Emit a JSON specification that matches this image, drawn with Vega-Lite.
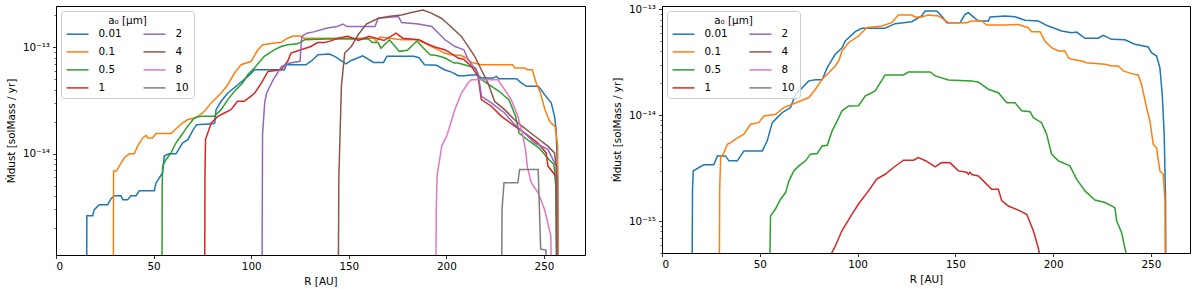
{
"$schema": "https://vega.github.io/schema/vega-lite/v6.json",
"padding": {"left": 5, "top": 3, "right": 5, "bottom": 2},
"datasets": {
"left": [
{"a":"0.01","r":15.6,"m":1e-16},{"a":"0.01","r":15.8,"m":2.62e-15},{"a":"0.01","r":18.8,"m":2.62e-15},{"a":"0.01","r":19.6,"m":2.99e-15},{"a":"0.01","r":22.2,"m":3.33e-15},{"a":"0.01","r":26.5,"m":3.33e-15},{"a":"0.01","r":28.2,"m":3.79e-15},{"a":"0.01","r":29.9,"m":4.04e-15},{"a":"0.01","r":33.3,"m":4.04e-15},{"a":"0.01","r":34.2,"m":3.71e-15},{"a":"0.01","r":36.7,"m":3.71e-15},{"a":"0.01","r":38.4,"m":4.04e-15},{"a":"0.01","r":41,"m":4.04e-15},{"a":"0.01","r":42.7,"m":4.5e-15},{"a":"0.01","r":50.4,"m":4.5e-15},{"a":"0.01","r":51.2,"m":5.3e-15},{"a":"0.01","r":54.6,"m":6.64e-15},{"a":"0.01","r":55.5,"m":9.57e-15},{"a":"0.01","r":58,"m":1e-14},{"a":"0.01","r":61.5,"m":1e-14},{"a":"0.01","r":64.9,"m":1.27e-14},{"a":"0.01","r":67.6,"m":1.36e-14},{"a":"0.01","r":70,"m":1.65e-14},{"a":"0.01","r":72,"m":1.88e-14},{"a":"0.01","r":80.5,"m":1.92e-14},{"a":"0.01","r":81.3,"m":1.95e-14},{"a":"0.01","r":82,"m":2.6e-14},{"a":"0.01","r":84.6,"m":3.12e-14},{"a":"0.01","r":88,"m":3.73e-14},{"a":"0.01","r":93.2,"m":4.46e-14},{"a":"0.01","r":98.3,"m":5.35e-14},{"a":"0.01","r":101.8,"m":6.17e-14},{"a":"0.01","r":117,"m":6.17e-14},{"a":"0.01","r":118,"m":6.87e-14},{"a":"0.01","r":128,"m":6.87e-14},{"a":"0.01","r":131,"m":7.5e-14},{"a":"0.01","r":134.2,"m":8.53e-14},{"a":"0.01","r":140,"m":8.65e-14},{"a":"0.01","r":143,"m":8.2e-14},{"a":"0.01","r":148.6,"m":7.02e-14},{"a":"0.01","r":151,"m":7.5e-14},{"a":"0.01","r":157.1,"m":8.34e-14},{"a":"0.01","r":162.7,"m":7.23e-14},{"a":"0.01","r":167.8,"m":7.23e-14},{"a":"0.01","r":169.5,"m":8.24e-14},{"a":"0.01","r":183.2,"m":8.24e-14},{"a":"0.01","r":186,"m":8.0e-14},{"a":"0.01","r":188.8,"m":6.87e-14},{"a":"0.01","r":195,"m":6.8e-14},{"a":"0.01","r":199,"m":6.17e-14},{"a":"0.01","r":203,"m":5.83e-14},{"a":"0.01","r":206,"m":5.42e-14},{"a":"0.01","r":209,"m":5.42e-14},{"a":"0.01","r":213,"m":5.5e-14},{"a":"0.01","r":216,"m":5.5e-14},{"a":"0.01","r":218,"m":5.15e-14},{"a":"0.01","r":224,"m":5.15e-14},{"a":"0.01","r":225.6,"m":5.35e-14},{"a":"0.01","r":227,"m":5.08e-14},{"a":"0.01","r":236,"m":5.08e-14},{"a":"0.01","r":238,"m":4.7e-14},{"a":"0.01","r":241,"m":4.31e-14},{"a":"0.01","r":247,"m":4.31e-14},{"a":"0.01","r":248.5,"m":4.0e-14},{"a":"0.01","r":250.3,"m":3.6e-14},{"a":"0.01","r":253.7,"m":3.01e-14},{"a":"0.01","r":255.4,"m":2.25e-14},{"a":"0.01","r":256.2,"m":1.69e-14},{"a":"0.01","r":257,"m":6e-15},{"a":"0.01","r":257.7,"m":1e-16},
{"a":"0.1","r":29.3,"m":1e-16},{"a":"0.1","r":29.5,"m":6.89e-15},{"a":"0.1","r":31,"m":6.89e-15},{"a":"0.1","r":32.4,"m":7.67e-15},{"a":"0.1","r":35,"m":9.18e-15},{"a":"0.1","r":37.6,"m":1e-14},{"a":"0.1","r":40.1,"m":1e-14},{"a":"0.1","r":41.8,"m":1.18e-14},{"a":"0.1","r":44.4,"m":1.41e-14},{"a":"0.1","r":46.1,"m":1.49e-14},{"a":"0.1","r":47,"m":1.41e-14},{"a":"0.1","r":49.5,"m":1.41e-14},{"a":"0.1","r":51.2,"m":1.55e-14},{"a":"0.1","r":59,"m":1.55e-14},{"a":"0.1","r":61.5,"m":1.72e-14},{"a":"0.1","r":64.9,"m":1.95e-14},{"a":"0.1","r":67.6,"m":2.1e-14},{"a":"0.1","r":70.9,"m":2.17e-14},{"a":"0.1","r":72.7,"m":2.25e-14},{"a":"0.1","r":76.1,"m":2.51e-14},{"a":"0.1","r":79.5,"m":3.01e-14},{"a":"0.1","r":84.6,"m":3.73e-14},{"a":"0.1","r":88,"m":4.46e-14},{"a":"0.1","r":91.4,"m":5.74e-14},{"a":"0.1","r":94.8,"m":6.87e-14},{"a":"0.1","r":100,"m":7.4e-14},{"a":"0.1","r":103.4,"m":9.5e-14},{"a":"0.1","r":106,"m":1.06e-13},{"a":"0.1","r":112,"m":1.1e-13},{"a":"0.1","r":115.3,"m":1.12e-13},{"a":"0.1","r":118.7,"m":1.22e-13},{"a":"0.1","r":121.3,"m":1.28e-13},{"a":"0.1","r":125,"m":1.28e-13},{"a":"0.1","r":127.3,"m":1.22e-13},{"a":"0.1","r":163,"m":1.22e-13},{"a":"0.1","r":164,"m":1.14e-13},{"a":"0.1","r":166,"m":1.25e-13},{"a":"0.1","r":177,"m":1.18e-13},{"a":"0.1","r":185,"m":1.18e-13},{"a":"0.1","r":188.8,"m":1.1e-13},{"a":"0.1","r":194,"m":9.84e-14},{"a":"0.1","r":199,"m":8.85e-14},{"a":"0.1","r":202,"m":8.53e-14},{"a":"0.1","r":207.5,"m":8.4e-14},{"a":"0.1","r":210,"m":8.0e-14},{"a":"0.1","r":213,"m":7.2e-14},{"a":"0.1","r":218,"m":6.87e-14},{"a":"0.1","r":234,"m":6.87e-14},{"a":"0.1","r":235,"m":6.4e-14},{"a":"0.1","r":240,"m":6.4e-14},{"a":"0.1","r":241.5,"m":6.17e-14},{"a":"0.1","r":244,"m":6.17e-14},{"a":"0.1","r":246,"m":4.62e-14},{"a":"0.1","r":248,"m":3.8e-14},{"a":"0.1","r":250.5,"m":2.6e-14},{"a":"0.1","r":253,"m":2.0e-14},{"a":"0.1","r":255.7,"m":1.8e-14},{"a":"0.1","r":257,"m":1.2e-14},{"a":"0.1","r":257.5,"m":1e-16},
{"a":"0.5","r":54.2,"m":1e-16},{"a":"0.5","r":54.4,"m":5e-15},{"a":"0.5","r":54.6,"m":7.67e-15},{"a":"0.5","r":56.4,"m":8.85e-15},{"a":"0.5","r":58.9,"m":1.02e-14},{"a":"0.5","r":61.5,"m":1.27e-14},{"a":"0.5","r":64,"m":1.47e-14},{"a":"0.5","r":67.5,"m":1.82e-14},{"a":"0.5","r":70.9,"m":2.17e-14},{"a":"0.5","r":74,"m":2.25e-14},{"a":"0.5","r":81,"m":2.25e-14},{"a":"0.5","r":84.6,"m":2.6e-14},{"a":"0.5","r":88,"m":3.23e-14},{"a":"0.5","r":92.2,"m":4.01e-14},{"a":"0.5","r":95.6,"m":4.62e-14},{"a":"0.5","r":98.2,"m":5.53e-14},{"a":"0.5","r":101.6,"m":6.4e-14},{"a":"0.5","r":106.7,"m":8.24e-14},{"a":"0.5","r":111.8,"m":9.5e-14},{"a":"0.5","r":115.3,"m":1.02e-13},{"a":"0.5","r":118.7,"m":1.06e-13},{"a":"0.5","r":123.8,"m":1.08e-13},{"a":"0.5","r":127.3,"m":1.18e-13},{"a":"0.5","r":139,"m":1.2e-13},{"a":"0.5","r":160,"m":1.2e-13},{"a":"0.5","r":162,"m":1.11e-13},{"a":"0.5","r":165,"m":1.11e-13},{"a":"0.5","r":166.5,"m":9.84e-14},{"a":"0.5","r":170.8,"m":1.18e-13},{"a":"0.5","r":175.9,"m":9.18e-14},{"a":"0.5","r":180,"m":9.4e-14},{"a":"0.5","r":184.9,"m":1.15e-13},{"a":"0.5","r":188.3,"m":9.84e-14},{"a":"0.5","r":191.7,"m":8.53e-14},{"a":"0.5","r":195,"m":8.4e-14},{"a":"0.5","r":199,"m":8.0e-14},{"a":"0.5","r":204,"m":7.13e-14},{"a":"0.5","r":206,"m":7.13e-14},{"a":"0.5","r":210,"m":6.8e-14},{"a":"0.5","r":215,"m":6.4e-14},{"a":"0.5","r":216.7,"m":5.15e-14},{"a":"0.5","r":221.8,"m":4.46e-14},{"a":"0.5","r":227,"m":3.87e-14},{"a":"0.5","r":232,"m":3.23e-14},{"a":"0.5","r":235.5,"m":2.25e-14},{"a":"0.5","r":237.2,"m":1.57e-14},{"a":"0.5","r":242.3,"m":1.32e-14},{"a":"0.5","r":247.4,"m":1.14e-14},{"a":"0.5","r":252.5,"m":8.85e-15},{"a":"0.5","r":255.1,"m":7.94e-15},{"a":"0.5","r":256,"m":5e-15},{"a":"0.5","r":256.8,"m":1e-16},
{"a":"1","r":76.1,"m":1e-16},{"a":"1","r":76.3,"m":6e-15},{"a":"1","r":76.6,"m":1.36e-14},{"a":"1","r":79.5,"m":1.95e-14},{"a":"1","r":82.9,"m":2.25e-14},{"a":"1","r":86.3,"m":2.42e-14},{"a":"1","r":89.6,"m":2.6e-14},{"a":"1","r":93,"m":3.12e-14},{"a":"1","r":96.4,"m":3.12e-14},{"a":"1","r":99.8,"m":3.47e-14},{"a":"1","r":101.8,"m":3.73e-14},{"a":"1","r":105.2,"m":4.62e-14},{"a":"1","r":108.6,"m":5.95e-14},{"a":"1","r":115.3,"m":6.17e-14},{"a":"1","r":118.7,"m":7.4e-14},{"a":"1","r":120.4,"m":8.85e-14},{"a":"1","r":125.5,"m":9.5e-14},{"a":"1","r":130.6,"m":1.02e-13},{"a":"1","r":134,"m":1.11e-13},{"a":"1","r":137.4,"m":1.11e-13},{"a":"1","r":140,"m":1.14e-13},{"a":"1","r":144.4,"m":1.22e-13},{"a":"1","r":149.5,"m":1.27e-13},{"a":"1","r":155,"m":1.16e-13},{"a":"1","r":160.4,"m":1.27e-13},{"a":"1","r":168,"m":1.16e-13},{"a":"1","r":174.2,"m":1.36e-13},{"a":"1","r":177.6,"m":1.22e-13},{"a":"1","r":186,"m":1.18e-13},{"a":"1","r":191.1,"m":1.06e-13},{"a":"1","r":195,"m":1.0e-13},{"a":"1","r":199.1,"m":9.5e-14},{"a":"1","r":200.8,"m":9.18e-14},{"a":"1","r":206,"m":7.94e-14},{"a":"1","r":209,"m":7.7e-14},{"a":"1","r":212.8,"m":6.63e-14},{"a":"1","r":216.2,"m":5.35e-14},{"a":"1","r":217.9,"m":3.23e-14},{"a":"1","r":223,"m":2.8e-14},{"a":"1","r":228.2,"m":2.25e-14},{"a":"1","r":235,"m":1.82e-14},{"a":"1","r":240,"m":1.57e-14},{"a":"1","r":246.8,"m":1.27e-14},{"a":"1","r":251.1,"m":1.02e-14},{"a":"1","r":252,"m":7.67e-15},{"a":"1","r":255.4,"m":6.4e-15},{"a":"1","r":256.5,"m":6e-15},{"a":"1","r":257,"m":1e-16},
{"a":"2","r":105.4,"m":1e-16},{"a":"2","r":105.8,"m":1.5e-14},{"a":"2","r":106.9,"m":3.01e-14},{"a":"2","r":107.9,"m":3.73e-14},{"a":"2","r":111.3,"m":4.97e-14},{"a":"2","r":115.6,"m":6.63e-14},{"a":"2","r":119.9,"m":7.13e-14},{"a":"2","r":125,"m":7.4e-14},{"a":"2","r":125.9,"m":1.27e-13},{"a":"2","r":128.5,"m":1.36e-13},{"a":"2","r":132,"m":1.4e-13},{"a":"2","r":139,"m":1.52e-13},{"a":"2","r":144,"m":1.57e-13},{"a":"2","r":147,"m":1.66e-13},{"a":"2","r":149,"m":1.57e-13},{"a":"2","r":163.4,"m":1.57e-13},{"a":"2","r":165.1,"m":1.88e-13},{"a":"2","r":175.4,"m":1.95e-13},{"a":"2","r":177.1,"m":1.71e-13},{"a":"2","r":185.6,"m":1.66e-13},{"a":"2","r":192.5,"m":1.57e-13},{"a":"2","r":199.3,"m":1.18e-13},{"a":"2","r":204.4,"m":1.02e-13},{"a":"2","r":207,"m":9.8e-14},{"a":"2","r":209,"m":9.5e-14},{"a":"2","r":211.1,"m":7.66e-14},{"a":"2","r":216.2,"m":5.74e-14},{"a":"2","r":218,"m":3.47e-14},{"a":"2","r":223,"m":3.01e-14},{"a":"2","r":229.8,"m":2.42e-14},{"a":"2","r":235,"m":1.88e-14},{"a":"2","r":240,"m":1.57e-14},{"a":"2","r":245.2,"m":1.27e-14},{"a":"2","r":252,"m":1.1e-14},{"a":"2","r":255.4,"m":8.24e-15},{"a":"2","r":256.5,"m":7.7e-15},{"a":"2","r":257,"m":1e-16},
{"a":"4","r":144.4,"m":1e-16},{"a":"4","r":144.9,"m":6e-15},{"a":"4","r":145.5,"m":1.47e-14},{"a":"4","r":146.2,"m":4.31e-14},{"a":"4","r":147.9,"m":8.85e-14},{"a":"4","r":151.3,"m":1.02e-13},{"a":"4","r":154.7,"m":1.31e-13},{"a":"4","r":159,"m":1.66e-13},{"a":"4","r":165.1,"m":1.88e-13},{"a":"4","r":170.2,"m":1.95e-13},{"a":"4","r":177,"m":2.02e-13},{"a":"4","r":182.1,"m":2.13e-13},{"a":"4","r":188,"m":2.25e-13},{"a":"4","r":192.3,"m":2.1e-13},{"a":"4","r":197.4,"m":1.88e-13},{"a":"4","r":200.8,"m":1.66e-13},{"a":"4","r":207.7,"m":1.27e-13},{"a":"4","r":214.5,"m":8.24e-14},{"a":"4","r":217.9,"m":6.17e-14},{"a":"4","r":221.3,"m":4.62e-14},{"a":"4","r":224.7,"m":3.12e-14},{"a":"4","r":229.8,"m":2.6e-14},{"a":"4","r":236.6,"m":1.95e-14},{"a":"4","r":245.2,"m":1.47e-14},{"a":"4","r":252,"m":1.18e-14},{"a":"4","r":255.4,"m":1.02e-14},{"a":"4","r":256.2,"m":7.7e-15},{"a":"4","r":257,"m":1e-16},
{"a":"8","r":194.4,"m":1e-16},{"a":"8","r":194.8,"m":3e-15},{"a":"8","r":195.2,"m":6.18e-15},{"a":"8","r":197.6,"m":1.18e-14},{"a":"8","r":200.2,"m":1.47e-14},{"a":"8","r":204.3,"m":2.6e-14},{"a":"8","r":207.7,"m":3.73e-14},{"a":"8","r":211.1,"m":4.62e-14},{"a":"8","r":212.8,"m":4.97e-14},{"a":"8","r":226.4,"m":4.97e-14},{"a":"8","r":229.8,"m":4.01e-14},{"a":"8","r":233.2,"m":3.23e-14},{"a":"8","r":236.6,"m":2.25e-14},{"a":"8","r":239.2,"m":1.47e-14},{"a":"8","r":240.5,"m":1.1e-14},{"a":"8","r":241.5,"m":7.5e-15},{"a":"8","r":243.5,"m":5.35e-15},{"a":"8","r":247,"m":4.3e-15},{"a":"8","r":250.3,"m":3e-15},{"a":"8","r":253.5,"m":1.7e-15},{"a":"8","r":254.3,"m":1e-16},
{"a":"10","r":228,"m":1e-16},{"a":"10","r":228.5,"m":3e-15},{"a":"10","r":229.5,"m":5.35e-15},{"a":"10","r":236.6,"m":5.35e-15},{"a":"10","r":237.5,"m":7.13e-15},{"a":"10","r":247,"m":7.13e-15},{"a":"10","r":248.3,"m":1.27e-15},{"a":"10","r":251,"m":1.25e-15},{"a":"10","r":252,"m":1e-16}
],
"right": [
{"a":"0.01","r":15,"m":1e-17},{"a":"0.01","r":15.6,"m":2e-15},{"a":"0.01","r":16,"m":2.98e-15},{"a":"0.01","r":18.9,"m":3.21e-15},{"a":"0.01","r":21.4,"m":3.4e-15},{"a":"0.01","r":26.5,"m":3.4e-15},{"a":"0.01","r":28.3,"m":4.13e-15},{"a":"0.01","r":32.5,"m":4.13e-15},{"a":"0.01","r":34.2,"m":3.71e-15},{"a":"0.01","r":38.5,"m":3.71e-15},{"a":"0.01","r":41.9,"m":4.6e-15},{"a":"0.01","r":51.3,"m":4.6e-15},{"a":"0.01","r":53.8,"m":5.73e-15},{"a":"0.01","r":56.4,"m":8.51e-15},{"a":"0.01","r":58.9,"m":9.49e-15},{"a":"0.01","r":61.5,"m":1.06e-14},{"a":"0.01","r":65.7,"m":1.18e-14},{"a":"0.01","r":68.3,"m":1.58e-14},{"a":"0.01","r":71.7,"m":1.82e-14},{"a":"0.01","r":75.1,"m":2.11e-14},{"a":"0.01","r":78.5,"m":2.16e-14},{"a":"0.01","r":81.9,"m":2.16e-14},{"a":"0.01","r":84.5,"m":2.81e-14},{"a":"0.01","r":87,"m":3.37e-14},{"a":"0.01","r":88.6,"m":3.76e-14},{"a":"0.01","r":92.1,"m":4.34e-14},{"a":"0.01","r":93.7,"m":5.02e-14},{"a":"0.01","r":98.8,"m":6.15e-14},{"a":"0.01","r":102.2,"m":6.62e-14},{"a":"0.01","r":114.1,"m":6.62e-14},{"a":"0.01","r":119.2,"m":7.32e-14},{"a":"0.01","r":127.7,"m":7.64e-14},{"a":"0.01","r":132.8,"m":8.65e-14},{"a":"0.01","r":134.5,"m":9.64e-14},{"a":"0.01","r":140.5,"m":9.64e-14},{"a":"0.01","r":143,"m":8.65e-14},{"a":"0.01","r":145.6,"m":7.48e-14},{"a":"0.01","r":152.4,"m":7.48e-14},{"a":"0.01","r":155,"m":8.97e-14},{"a":"0.01","r":156.7,"m":9.29e-14},{"a":"0.01","r":159.2,"m":8.5e-14},{"a":"0.01","r":161.8,"m":7.76e-14},{"a":"0.01","r":166.9,"m":7.76e-14},{"a":"0.01","r":167.8,"m":8.46e-14},{"a":"0.01","r":175.4,"m":8.65e-14},{"a":"0.01","r":180.5,"m":8.5e-14},{"a":"0.01","r":185.6,"m":7.88e-14},{"a":"0.01","r":192.4,"m":7.76e-14},{"a":"0.01","r":197.5,"m":6.95e-14},{"a":"0.01","r":204.4,"m":6.24e-14},{"a":"0.01","r":209.5,"m":6.01e-14},{"a":"0.01","r":212,"m":6.1e-14},{"a":"0.01","r":216.3,"m":5.33e-14},{"a":"0.01","r":223.1,"m":5.33e-14},{"a":"0.01","r":225.6,"m":5.68e-14},{"a":"0.01","r":229.9,"m":5.21e-14},{"a":"0.01","r":236.7,"m":5.15e-14},{"a":"0.01","r":241.8,"m":4.68e-14},{"a":"0.01","r":248.6,"m":4.41e-14},{"a":"0.01","r":250.3,"m":3.9e-14},{"a":"0.01","r":252.9,"m":3.62e-14},{"a":"0.01","r":254.6,"m":2.81e-14},{"a":"0.01","r":255.8,"m":1.58e-14},{"a":"0.01","r":256.8,"m":6.62e-15},{"a":"0.01","r":257.5,"m":1.56e-15},{"a":"0.01","r":258,"m":1e-17},
{"a":"0.1","r":29,"m":1e-17},{"a":"0.1","r":29.5,"m":2e-15},{"a":"0.1","r":30,"m":3.98e-15},{"a":"0.1","r":31.7,"m":4.44e-15},{"a":"0.1","r":33.4,"m":5.32e-15},{"a":"0.1","r":35.1,"m":5.52e-15},{"a":"0.1","r":37.6,"m":5.94e-15},{"a":"0.1","r":41.9,"m":6.62e-15},{"a":"0.1","r":45.3,"m":8.22e-15},{"a":"0.1","r":49.5,"m":8.51e-15},{"a":"0.1","r":52.1,"m":9.85e-15},{"a":"0.1","r":58.1,"m":1.02e-14},{"a":"0.1","r":62.3,"m":1.18e-14},{"a":"0.1","r":66.6,"m":1.27e-14},{"a":"0.1","r":75.1,"m":1.47e-14},{"a":"0.1","r":78.5,"m":1.76e-14},{"a":"0.1","r":81.9,"m":2.19e-14},{"a":"0.1","r":85.3,"m":2.52e-14},{"a":"0.1","r":88.6,"m":2.92e-14},{"a":"0.1","r":90.5,"m":3.3e-14},{"a":"0.1","r":92,"m":4.04e-14},{"a":"0.1","r":95.4,"m":4.84e-14},{"a":"0.1","r":100.5,"m":5.6e-14},{"a":"0.1","r":104.7,"m":6.7e-14},{"a":"0.1","r":112.4,"m":6.95e-14},{"a":"0.1","r":117.5,"m":7.48e-14},{"a":"0.1","r":120.9,"m":8.83e-14},{"a":"0.1","r":127.7,"m":8.83e-14},{"a":"0.1","r":129.4,"m":8.46e-14},{"a":"0.1","r":132.8,"m":8.46e-14},{"a":"0.1","r":136.2,"m":8.83e-14},{"a":"0.1","r":141.4,"m":8.65e-14},{"a":"0.1","r":146.5,"m":7.48e-14},{"a":"0.1","r":155.8,"m":7.48e-14},{"a":"0.1","r":158.4,"m":7.76e-14},{"a":"0.1","r":163.5,"m":7.76e-14},{"a":"0.1","r":166,"m":7.11e-14},{"a":"0.1","r":175.4,"m":7.11e-14},{"a":"0.1","r":182.2,"m":7.2e-14},{"a":"0.1","r":187.3,"m":6.7e-14},{"a":"0.1","r":189,"m":6.15e-14},{"a":"0.1","r":193.3,"m":6.15e-14},{"a":"0.1","r":195.8,"m":5.02e-14},{"a":"0.1","r":199.2,"m":4.34e-14},{"a":"0.1","r":202.7,"m":4.04e-14},{"a":"0.1","r":206,"m":4.04e-14},{"a":"0.1","r":207.8,"m":3.49e-14},{"a":"0.1","r":209.5,"m":3.37e-14},{"a":"0.1","r":214.6,"m":3.25e-14},{"a":"0.1","r":217.1,"m":3.13e-14},{"a":"0.1","r":226.5,"m":3.03e-14},{"a":"0.1","r":229.9,"m":2.92e-14},{"a":"0.1","r":233.3,"m":2.92e-14},{"a":"0.1","r":235.9,"m":2.62e-14},{"a":"0.1","r":240.1,"m":2.47e-14},{"a":"0.1","r":243.5,"m":2.4e-14},{"a":"0.1","r":245.2,"m":1.96e-14},{"a":"0.1","r":247.8,"m":1.18e-14},{"a":"0.1","r":249.5,"m":8.83e-15},{"a":"0.1","r":251.2,"m":5.32e-15},{"a":"0.1","r":252.9,"m":4.92e-15},{"a":"0.1","r":254.6,"m":2.98e-15},{"a":"0.1","r":256.3,"m":2.77e-15},{"a":"0.1","r":257.2,"m":1.56e-15},{"a":"0.1","r":257.6,"m":1e-17},
{"a":"0.5","r":54.6,"m":1e-17},{"a":"0.5","r":55.2,"m":5e-16},{"a":"0.5","r":55.5,"m":1.12e-15},{"a":"0.5","r":58,"m":1.3e-15},{"a":"0.5","r":60.6,"m":1.61e-15},{"a":"0.5","r":63.2,"m":1.86e-15},{"a":"0.5","r":64.9,"m":2.4e-15},{"a":"0.5","r":67.4,"m":2.98e-15},{"a":"0.5","r":70,"m":3.32e-15},{"a":"0.5","r":73.4,"m":3.71e-15},{"a":"0.5","r":75.9,"m":4.29e-15},{"a":"0.5","r":79.4,"m":4.35e-15},{"a":"0.5","r":81.9,"m":5.13e-15},{"a":"0.5","r":84.5,"m":5.2e-15},{"a":"0.5","r":87,"m":7.11e-15},{"a":"0.5","r":89.6,"m":8.83e-15},{"a":"0.5","r":92,"m":1.1e-14},{"a":"0.5","r":95.4,"m":1.225e-14},{"a":"0.5","r":100.5,"m":1.23e-14},{"a":"0.5","r":103.9,"m":1.52e-14},{"a":"0.5","r":109,"m":1.695e-14},{"a":"0.5","r":114.1,"m":2.4e-14},{"a":"0.5","r":123.5,"m":2.4e-14},{"a":"0.5","r":126,"m":2.56e-14},{"a":"0.5","r":137.1,"m":2.56e-14},{"a":"0.5","r":139.7,"m":2.35e-14},{"a":"0.5","r":146.5,"m":2.155e-14},{"a":"0.5","r":158.4,"m":2.11e-14},{"a":"0.5","r":161.8,"m":2.05e-14},{"a":"0.5","r":166.9,"m":1.76e-14},{"a":"0.5","r":172,"m":1.63e-14},{"a":"0.5","r":176.3,"m":1.315e-14},{"a":"0.5","r":180.5,"m":1.315e-14},{"a":"0.5","r":183.9,"m":1.1e-14},{"a":"0.5","r":188.2,"m":1.08e-14},{"a":"0.5","r":189.9,"m":9.49e-15},{"a":"0.5","r":194.1,"m":8.51e-15},{"a":"0.5","r":196.7,"m":6.62e-15},{"a":"0.5","r":199.2,"m":4.29e-15},{"a":"0.5","r":202.7,"m":3.71e-15},{"a":"0.5","r":208.6,"m":3.32e-15},{"a":"0.5","r":212,"m":2.49e-15},{"a":"0.5","r":216.3,"m":1.93e-15},{"a":"0.5","r":221.4,"m":1.58e-15},{"a":"0.5","r":226.5,"m":1.5e-15},{"a":"0.5","r":231.6,"m":1.34e-15},{"a":"0.5","r":232.5,"m":1e-15},{"a":"0.5","r":235,"m":7.8e-16},{"a":"0.5","r":236.7,"m":5.6e-16},{"a":"0.5","r":238.5,"m":4e-16},{"a":"0.5","r":239,"m":1e-17},
{"a":"1","r":83,"m":3.5e-16},{"a":"1","r":85.5,"m":4.5e-16},{"a":"1","r":88.6,"m":5.8e-16},{"a":"1","r":92,"m":8.1e-16},{"a":"1","r":97.1,"m":1.16e-15},{"a":"1","r":100.5,"m":1.45e-15},{"a":"1","r":105.6,"m":1.93e-15},{"a":"1","r":109.8,"m":2.49e-15},{"a":"1","r":114.1,"m":2.77e-15},{"a":"1","r":118.4,"m":3.21e-15},{"a":"1","r":123.5,"m":3.76e-15},{"a":"1","r":128.6,"m":3.76e-15},{"a":"1","r":131.1,"m":3.98e-15},{"a":"1","r":135,"m":3.7e-15},{"a":"1","r":139.7,"m":3.25e-15},{"a":"1","r":143,"m":3.57e-15},{"a":"1","r":147.3,"m":3.55e-15},{"a":"1","r":151.6,"m":2.98e-15},{"a":"1","r":155.8,"m":2.9e-15},{"a":"1","r":156.7,"m":2.77e-15},{"a":"1","r":157.5,"m":2.9e-15},{"a":"1","r":158.4,"m":2.75e-15},{"a":"1","r":161.8,"m":2.67e-15},{"a":"1","r":165.2,"m":2.31e-15},{"a":"1","r":168.6,"m":2e-15},{"a":"1","r":172,"m":2e-15},{"a":"1","r":173.7,"m":1.56e-15},{"a":"1","r":177.1,"m":1.39e-15},{"a":"1","r":182.2,"m":1.27e-15},{"a":"1","r":186.5,"m":1.16e-15},{"a":"1","r":189.9,"m":8.1e-16},{"a":"1","r":192.4,"m":5.6e-16},{"a":"1","r":194,"m":4e-16}
]
},
"config": {
  "font": "DejaVu Sans",
  "view": {"stroke": "#000", "strokeWidth": 1},
  "axis": {"labelFont": "DejaVu Sans", "labelFontSize": 10.4, "titleFont": "DejaVu Sans", "titleFontSize": 10.4, "titleFontWeight": "normal", "labelColor": "#000", "titleColor": "#000", "tickColor": "#000", "domain": false, "grid": false, "tickSize": 3.5, "tickWidth": 0.8, "labelPadding": 3},
  "legend": {"orient": "top-left", "offset": 4.5, "columns": 2, "fillColor": "rgba(255,255,255,0.8)", "strokeColor": "#cccccc", "cornerRadius": 3, "padding": 4.5, "symbolType": "stroke", "symbolSize": 484, "symbolStrokeWidth": 1.5, "labelFont": "DejaVu Sans", "labelFontSize": 10.4, "labelColor": "#000", "titleFont": "DejaVu Sans", "titleFontSize": 10.4, "titleFontWeight": "normal", "titleColor": "#000", "titleAnchor": "middle", "titleAlign": "center", "columnPadding": 18, "rowPadding": -1.6, "labelOffset": 9, "titlePadding": -4},
  "concat": {"spacing": 25}
},
"resolve": {"scale": {"color": "independent"}, "legend": {"color": "independent"}},
"hconcat": [
{
  "width": 529, "height": 249,
  "data": {"name": "left"},
  "mark": {"type": "line", "strokeWidth": 1.5, "clip": true},
  "encoding": {
    "x": {"field": "r", "type": "quantitative", "scale": {"domain": [0, 271], "nice": false, "zero": false}, "axis": {"title": "R [AU]", "values": [0, 50, 100, 150, 200, 250], "titlePadding": 5}},
    "y": {"field": "m", "type": "quantitative", "scale": {"type": "log", "domain": [1.12e-15, 2.45e-13], "nice": false}, "axis": {"title": "M\u0307dust [solMass / yr]", "titlePadding": 6, "values": [2e-15, 3e-15, 4e-15, 5e-15, 6e-15, 7e-15, 8e-15, 9e-15, 1e-14, 2e-14, 3e-14, 4e-14, 5e-14, 6e-14, 7e-14, 8e-14, 9e-14, 1e-13, 2e-13], "labelExpr": "abs(log(datum.value)/LN10 - round(log(datum.value)/LN10)) < 0.01 ? (round(log(datum.value)/LN10) == -13 ? '10⁻¹³' : round(log(datum.value)/LN10) == -14 ? '10⁻¹⁴' : '10⁻¹⁵') : ''", "tickSize": {"condition": {"test": "abs(log(datum.value)/LN10 - round(log(datum.value)/LN10)) < 0.01", "value": 3.5}, "value": 2}, "tickWidth": {"condition": {"test": "abs(log(datum.value)/LN10 - round(log(datum.value)/LN10)) < 0.01", "value": 0.8}, "value": 0.6}}},
    "color": {"field": "a", "type": "nominal", "scale": {"domain": ["0.01", "0.1", "0.5", "1", "2", "4", "8", "10"], "range": ["#1f77b4", "#ff7f0e", "#2ca02c", "#d62728", "#9467bd", "#8c564b", "#e377c2", "#7f7f7f"]}, "legend": {"title": "a₀ [μm]"}}
  }
},
{
  "width": 528, "height": 247,
  "data": {"name": "right"},
  "mark": {"type": "line", "strokeWidth": 1.5, "clip": true},
  "encoding": {
    "x": {"field": "r", "type": "quantitative", "scale": {"domain": [0, 270], "nice": false, "zero": false}, "axis": {"title": "R [AU]", "values": [0, 50, 100, 150, 200, 250], "titlePadding": 5}},
    "y": {"field": "m", "type": "quantitative", "scale": {"type": "log", "domain": [5e-16, 1.075e-13], "nice": false}, "axis": {"title": "M\u0307dust [solMass / yr]", "titlePadding": 6, "values": [5e-16, 6e-16, 7e-16, 8e-16, 9e-16, 1e-15, 2e-15, 3e-15, 4e-15, 5e-15, 6e-15, 7e-15, 8e-15, 9e-15, 1e-14, 2e-14, 3e-14, 4e-14, 5e-14, 6e-14, 7e-14, 8e-14, 9e-14, 1e-13], "labelExpr": "abs(log(datum.value)/LN10 - round(log(datum.value)/LN10)) < 0.01 ? (round(log(datum.value)/LN10) == -13 ? '10⁻¹³' : round(log(datum.value)/LN10) == -14 ? '10⁻¹⁴' : '10⁻¹⁵') : ''", "tickSize": {"condition": {"test": "abs(log(datum.value)/LN10 - round(log(datum.value)/LN10)) < 0.01", "value": 3.5}, "value": 2}, "tickWidth": {"condition": {"test": "abs(log(datum.value)/LN10 - round(log(datum.value)/LN10)) < 0.01", "value": 0.8}, "value": 0.6}}},
    "color": {"field": "a", "type": "nominal", "scale": {"domain": ["0.01", "0.1", "0.5", "1", "2", "4", "8", "10"], "range": ["#1f77b4", "#ff7f0e", "#2ca02c", "#d62728", "#9467bd", "#8c564b", "#e377c2", "#7f7f7f"]}, "legend": {"title": "a₀ [μm]"}}
  }
}
]
}
